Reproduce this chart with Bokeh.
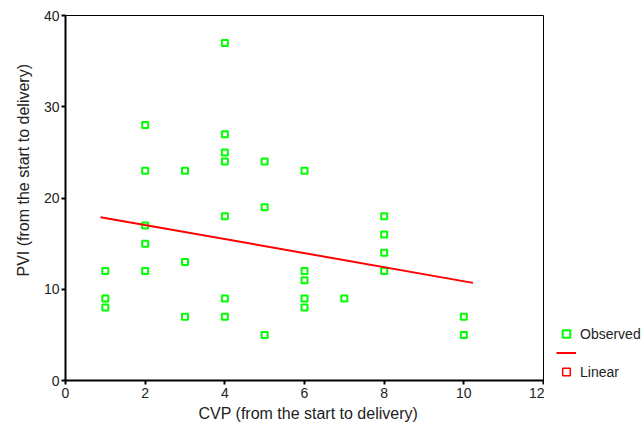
from bokeh.plotting import figure
from bokeh.models import (ColumnDataSource, Legend, LegendItem, FixedTicker, Range1d, Title)
from bokeh.layouts import row
from bokeh.embed import file_html
from bokeh.resources import INLINE

# Observed data (CVP, PVI)
cvp = [1, 1, 1,
       2, 2, 2, 2, 2,
       3, 3, 3,
       4, 4, 4, 4, 4, 4, 4,
       5, 5, 5,
       6, 6, 6, 6, 6,
       7,
       8, 8, 8, 8,
       10, 10]
pvi = [12, 9, 8,
       28, 23, 17, 15, 12,
       23, 13, 7,
       37, 27, 25, 24, 18, 9, 7,
       24, 19, 5,
       23, 12, 11, 9, 8,
       9,
       18, 16, 14, 12,
       7, 5]

# Linear fit line endpoints
fit_x = [0.88, 10.23]
fit_y = [17.9, 10.7]

x_ticks = [0, 2, 4, 6, 8, 10, 12]
y_ticks = [0, 10, 20, 30, 40]

x_label = "CVP (from the start to delivery)"
y_label = "PVI (from the start to delivery)"

FONT = "Liberation Sans"
GREEN = "#00FF00"
RED = "#FF0000"
TXT = "#222222"

p = figure(width=544, height=435, output_backend="svg", toolbar_location=None,
           x_range=Range1d(0, 12), y_range=Range1d(0, 40),
           min_border_left=65, min_border_top=15, min_border_right=1, min_border_bottom=55)

p.xgrid.visible = False
p.ygrid.visible = False
p.outline_line_color = "black"
p.outline_line_width = 1
p.background_fill_color = "white"
p.border_fill_color = "white"

p.scatter(x=cvp, y=pvi, marker="square", size=6, line_color=GREEN, line_width=2,
          fill_color=None)
p.line(x=fit_x, y=fit_y, line_color=RED, line_width=2)

for ax, ticks in ((p.xaxis[0], x_ticks), (p.yaxis[0], y_ticks)):
    ax.ticker = FixedTicker(ticks=ticks)
    ax.minor_tick_line_color = None
    ax.major_tick_in = 0
    ax.major_tick_out = 4
    ax.major_tick_line_width = 2
    ax.axis_line_width = 2
    ax.axis_line_color = "black"
    ax.major_label_text_font = FONT
    ax.major_label_text_font_size = "14px"
    ax.major_label_text_color = TXT

p.yaxis[0].major_label_standoff = 2
p.xaxis[0].major_label_standoff = 3

p.add_layout(Title(text=x_label, align="left", offset=133, standoff=4,
                   text_font=FONT, text_font_size="16px", text_font_style="normal",
                   text_color=TXT), "below")
p.add_layout(Title(text=y_label, align="left", offset=104, standoff=17,
                   text_font=FONT, text_font_size="16px", text_font_style="normal",
                   text_color=TXT), "left")

# Legend panel (its own renderers lie outside its ranges, so only the legend shows)
q = figure(width=100, height=435, output_backend="svg", toolbar_location=None,
           x_range=Range1d(100, 101), y_range=Range1d(100, 101),
           min_border_left=0, min_border_top=0, min_border_right=0, min_border_bottom=0)
q.axis.visible = False
q.xgrid.visible = False
q.ygrid.visible = False
q.outline_line_color = None
q.background_fill_color = "white"
q.border_fill_color = "white"

src = ColumnDataSource(data=dict(x=fit_x, y=fit_y))
r_obs = q.scatter(x="x", y="y", source=src, marker="square", size=6,
                  line_color=GREEN, line_width=2, fill_color=None)
r_lin = q.line(x="x", y="y", source=src, line_color=RED, line_width=2)
r_mark = q.scatter(x="x", y="y", source=src, marker="square", size=6,
                   line_color=RED, line_width=1.5, fill_color=None)

legend = Legend(items=[LegendItem(label="Observed", renderers=[r_obs]),
                       LegendItem(label=" ", renderers=[r_lin]),
                       LegendItem(label="Linear", renderers=[r_mark])],
                location=(12, -1), orientation="vertical",
                margin=0, padding=0, spacing=0,
                glyph_width=20, glyph_height=19, label_height=19,
                label_standoff=4,
                label_text_font=FONT, label_text_font_size="14px", label_text_color=TXT,
                border_line_color=None, background_fill_alpha=0)
q.add_layout(legend)

layout = row(p, q, spacing=0)
open("out.html", "w").write(file_html(layout, INLINE))
